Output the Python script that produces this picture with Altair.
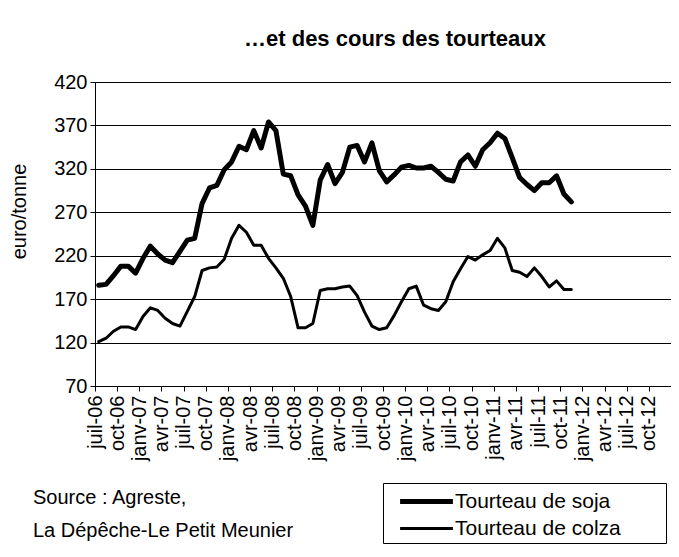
import json
import altair as alt
import pandas as pd

series_names = ["Tourteau de soja", "Tourteau de colza"]

# monthly values, juil-06 (index 0) to nov-11 (index 64), euro/tonne
soja = [186, 187, 197, 208, 208, 200, 217, 231, 222, 215,
        212, 225, 238, 240, 280, 298, 301, 319, 328, 346,
        342, 364, 344, 374, 364, 314, 312, 290, 277, 255,
        307, 325, 303, 316, 345, 347, 328, 350, 318, 305,
        313, 322, 324, 321, 321, 323, 316, 308, 306, 328,
        336, 323, 342, 350, 361, 355, 333, 310, 302, 295,
        304, 304, 312, 291, 282]
colza = [121, 125, 133, 138, 138, 135, 150, 160, 157, 148,
         142, 139, 156, 173, 203, 206, 207, 216, 240, 255,
         247, 232, 232, 217, 206, 194, 173, 137, 137, 142,
         180, 182, 182, 184, 185, 174, 155, 139, 135, 137,
         151, 167, 182, 185, 163, 159, 157, 167, 190, 205,
         219, 215, 221, 226, 240, 229, 203, 201, 196, 206,
         196, 184, 191, 181, 181]

tick_labels = ["juil-06", "oct-06", "janv-07", "avr-07", "juil-07", "oct-07",
               "janv-08", "avr-08", "juil-08", "oct-08", "janv-09", "avr-09",
               "juil-09", "oct-09", "janv-10", "avr-10", "juil-10", "oct-10",
               "janv-11", "avr-11", "juil-11", "oct-11", "janv-12", "avr-12",
               "juil-12", "oct-12"]
y_ticks = [70, 120, 170, 220, 270, 320, 370, 420]
source_lines = ["Source : Agreste,", "\u00a0La Dépêche-Le Petit Meunier"]
title_text = "\u2026et des cours des tourteaux"

rows = []
for i, v in enumerate(soja):
    rows.append({"mois": i + 0.5, "serie": series_names[0], "valeur": v})
for i, v in enumerate(colza):
    rows.append({"mois": i + 0.5, "serie": series_names[1], "valeur": v})
df = pd.DataFrame(rows)

FONT = "Liberation Sans"
FS = 20

tick_vals = list(range(0, 79, 3))
label_expr = json.dumps(tick_labels) + "[round(datum.value/3)] || ''"

legend = alt.Legend(
    title="\u00a0", titleOrient="right", titlePadding=41, titleFontSize=8,
    orient="none", legendX=288, legendY=401,
    strokeColor="black", fillColor="white", padding=4,
    labelFont=FONT, labelFontSize=21, labelColor="black", labelLimit=300,
    symbolType="M-2.2,0H2.2", symbolSize=576, rowPadding=3,
    symbolOffset=25, labelOffset=14,
)

lines = alt.Chart(df).mark_line(strokeJoin="round", strokeCap="round").encode(
    x=alt.X("mois:Q", scale=alt.Scale(domain=[0, 78], nice=False, zero=False),
            axis=alt.Axis(values=tick_vals, labelExpr=label_expr, title=None,
                          grid=False, labelAngle=-90, tickSize=5, labelPadding=4,
                          tickColor="black", domainColor="black", labelColor="black",
                          labelFont=FONT, labelFontSize=FS)),
    y=alt.Y("valeur:Q", scale=alt.Scale(domain=[70, 420], nice=False, zero=False),
            axis=alt.Axis(values=y_ticks, title="euro/tonne", grid=True,
                          gridColor="black", gridWidth=1, tickSize=5,
                          tickColor="black", domainColor="black", labelColor="black",
                          labelFont=FONT, labelFontSize=FS, labelPadding=3,
                          titleFont=FONT, titleFontSize=FS, titleFontWeight="normal",
                          titleColor="black", titleY=129, titlePadding=24)),
    color=alt.Color("serie:N", scale=alt.Scale(domain=series_names, range=["black", "black"]),
                    legend=legend),
    strokeWidth=alt.StrokeWidth("serie:N", scale=alt.Scale(domain=series_names, range=[5, 3]),
                                legend=legend),
)

source = alt.Chart(pd.DataFrame({"k": [0]})).mark_text(
    text=source_lines, align="left", baseline="alphabetic", font=FONT,
    fontSize=FS, lineHeight=33, color="black"
).encode(x=alt.value(-62), y=alt.value(422))

chart = alt.layer(lines, source).properties(
    width=576, height=304,
    title=alt.TitleParams(text=title_text, font=FONT, fontSize=22, fontWeight="bold",
                          anchor="middle", offset=21, dx=12, color="black"),
    autosize=alt.AutoSizeParams(type="none"),
    padding={"left": 87, "top": 74, "right": 0, "bottom": 160},
).configure_view(stroke="#808080", strokeWidth=1).configure(font=FONT)

chart.save("out.html", embed_options={"renderer": "svg", "actions": False})
